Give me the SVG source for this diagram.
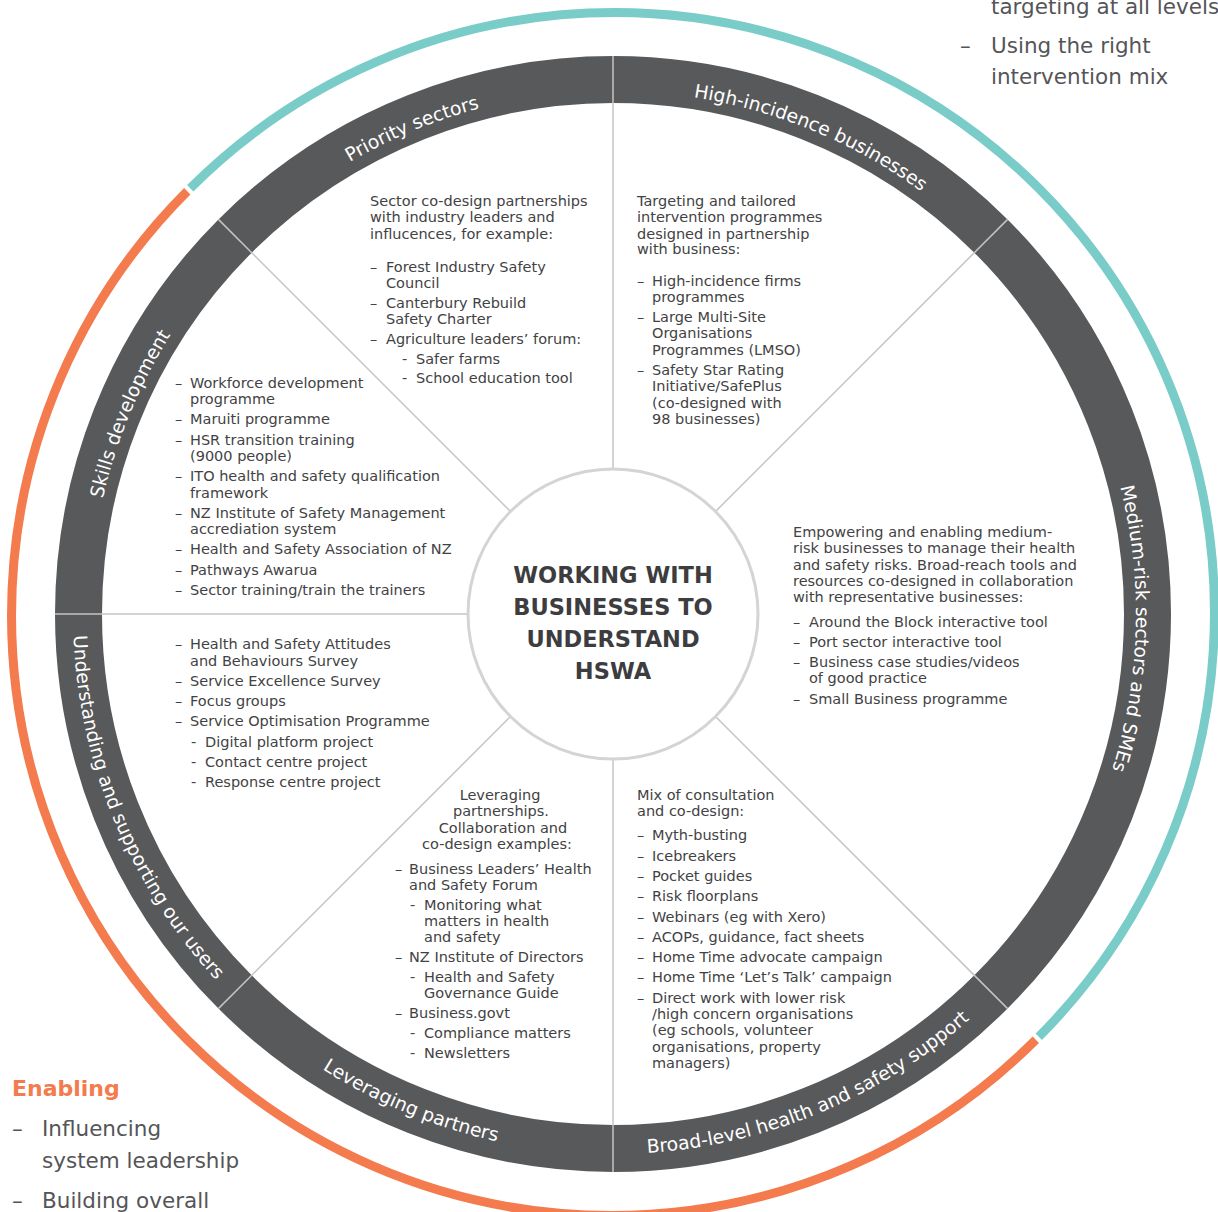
<svg xmlns="http://www.w3.org/2000/svg" width="1218" height="1212" viewBox="0 0 1218 1212">
<style>
.b{font-family:"DejaVu Sans","Liberation Sans",sans-serif;font-size:14.5px;fill:#424244}
.r{font-family:"DejaVu Sans","Liberation Sans",sans-serif;font-size:18.8px;fill:#ffffff}
.c{font-family:"DejaVu Sans","Liberation Sans",sans-serif;font-size:22.5px;font-weight:bold;fill:#3d3d3f}
.o{font-family:"DejaVu Sans","Liberation Sans",sans-serif;font-size:21.5px;fill:#555558}
.div{stroke:#c4c4c4;stroke-width:1.5;fill:none}
</style>
<defs>
<path id="pSkills" d="M 90 614 A 523 523 0 0 1 243.18 244.18"/>
<path id="pPriority" d="M 243.18 244.18 A 523 523 0 0 1 613 91"/>
<path id="pHigh" d="M 613 91 A 523 523 0 0 1 982.82 244.18"/>
<path id="pMedium" d="M 982.82 244.18 A 523 523 0 0 1 982.82 983.82"/>
<path id="pBroad" d="M 613 1154 A 540 540 0 0 0 994.84 995.84"/>
<path id="pLever" d="M 231.16 995.84 A 540 540 0 0 0 613 1154"/>
<path id="pUnder" d="M 73 614 A 540 540 0 0 0 231.16 995.84"/>
</defs>
<rect width="1218" height="1212" fill="#ffffff"/>

<g id="outer-arcs">
<path d="M 190.22 188.25 A 600 600 0 0 1 1038.75 1036.78" fill="none" stroke="#7accc8" stroke-width="9"/>
<path d="M 1035.78 1039.75 A 600 600 0 0 1 187.25 191.22" fill="none" stroke="#f37b4d" stroke-width="9"/>
</g>

<g id="ring">
<circle cx="613" cy="614" r="534.5" fill="none" stroke="#58595b" stroke-width="47"/>
</g>

<g id="dividers">
<line class="div" x1="613" y1="469" x2="613" y2="56"/>
<line class="div" x1="613" y1="759" x2="613" y2="1172"/>
<line class="div" x1="468" y1="614" x2="55" y2="614"/>
<line class="div" x1="510.5" y1="511.5" x2="218.4" y2="219.4"/>
<line class="div" x1="715.5" y1="511.5" x2="1007.6" y2="219.4"/>
<line class="div" x1="715.5" y1="716.5" x2="1007.6" y2="1008.6"/>
<line class="div" x1="510.5" y1="716.5" x2="218.4" y2="1008.6"/>
</g>

<g id="center">
<circle cx="613" cy="614" r="145" fill="#ffffff" stroke="#d4d4d4" stroke-width="3"/>
<text class="c" text-anchor="middle"><tspan x="613" y="583">WORKING WITH</tspan><tspan x="613" y="615">BUSINESSES TO</tspan><tspan x="613" y="647">UNDERSTAND</tspan><tspan x="613" y="679">HSWA</tspan></text>
</g>

<g id="priority-sectors">
<text class="r"><textPath href="#pPriority" startOffset="50%" text-anchor="middle">Priority sectors</textPath></text>
<text class="b"><tspan x="370" y="206">Sector co-design partnerships</tspan><tspan x="370" y="222">with industry leaders and</tspan><tspan x="370" y="239">influcences, for example:</tspan></text>
<text class="b"><tspan x="370" y="272">–</tspan><tspan x="386" y="272">Forest Industry Safety</tspan><tspan x="386" y="288">Council</tspan></text>
<text class="b"><tspan x="370" y="308">–</tspan><tspan x="386" y="308">Canterbury Rebuild</tspan><tspan x="386" y="324">Safety Charter</tspan></text>
<text class="b"><tspan x="370" y="344">–</tspan><tspan x="386" y="344">Agriculture leaders’ forum:</tspan></text>
<text class="b"><tspan x="402" y="364">-</tspan><tspan x="416" y="364">Safer farms</tspan></text>
<text class="b"><tspan x="402" y="383">-</tspan><tspan x="416" y="383">School education tool</tspan></text>
</g>

<g id="high-incidence">
<text class="r"><textPath href="#pHigh" startOffset="50%" text-anchor="middle">High-incidence businesses</textPath></text>
<text class="b"><tspan x="637" y="206">Targeting and tailored</tspan><tspan x="637" y="222">intervention programmes</tspan><tspan x="637" y="239">designed in partnership</tspan><tspan x="637" y="254">with business:</tspan></text>
<text class="b"><tspan x="637" y="286">–</tspan><tspan x="652" y="286">High-incidence firms</tspan><tspan x="652" y="302">programmes</tspan></text>
<text class="b"><tspan x="637" y="322">–</tspan><tspan x="652" y="322">Large Multi-Site</tspan><tspan x="652" y="338">Organisations</tspan><tspan x="652" y="355">Programmes (LMSO)</tspan></text>
<text class="b"><tspan x="637" y="375">–</tspan><tspan x="652" y="375">Safety Star Rating</tspan><tspan x="652" y="391">Initiative/SafePlus</tspan><tspan x="652" y="408">(co-designed with</tspan><tspan x="652" y="424">98 businesses)</tspan></text>
</g>

<g id="medium-risk">
<text class="r"><textPath href="#pMedium" startOffset="51.8%" text-anchor="middle">Medium-risk sectors and SMEs</textPath></text>
<text class="b"><tspan x="793" y="537">Empowering and enabling medium-</tspan><tspan x="793" y="553">risk businesses to manage their health</tspan><tspan x="793" y="570">and safety risks. Broad-reach tools and</tspan><tspan x="793" y="586">resources co-designed in collaboration</tspan><tspan x="793" y="602">with representative businesses:</tspan></text>
<text class="b"><tspan x="793" y="627">–</tspan><tspan x="809" y="627">Around the Block interactive tool</tspan></text>
<text class="b"><tspan x="793" y="647">–</tspan><tspan x="809" y="647">Port sector interactive tool</tspan></text>
<text class="b"><tspan x="793" y="667">–</tspan><tspan x="809" y="667">Business case studies/videos</tspan><tspan x="809" y="683">of good practice</tspan></text>
<text class="b"><tspan x="793" y="704">–</tspan><tspan x="809" y="704">Small Business programme</tspan></text>
</g>

<g id="broad-level">
<text class="r"><textPath href="#pBroad" startOffset="50%" text-anchor="middle">Broad-level health and safety support</textPath></text>
<text class="b"><tspan x="637" y="800">Mix of consultation</tspan><tspan x="637" y="816">and co-design:</tspan></text>
<text class="b"><tspan x="637" y="840">–</tspan><tspan x="652" y="840">Myth-busting</tspan></text>
<text class="b"><tspan x="637" y="861">–</tspan><tspan x="652" y="861">Icebreakers</tspan></text>
<text class="b"><tspan x="637" y="881">–</tspan><tspan x="652" y="881">Pocket guides</tspan></text>
<text class="b"><tspan x="637" y="901">–</tspan><tspan x="652" y="901">Risk floorplans</tspan></text>
<text class="b"><tspan x="637" y="922">–</tspan><tspan x="652" y="922">Webinars (eg with Xero)</tspan></text>
<text class="b"><tspan x="637" y="942">–</tspan><tspan x="652" y="942">ACOPs, guidance, fact sheets</tspan></text>
<text class="b"><tspan x="637" y="962">–</tspan><tspan x="652" y="962">Home Time advocate campaign</tspan></text>
<text class="b"><tspan x="637" y="982">–</tspan><tspan x="652" y="982">Home Time ‘Let’s Talk’ campaign</tspan></text>
<text class="b"><tspan x="637" y="1003">–</tspan><tspan x="652" y="1003">Direct work with lower risk</tspan><tspan x="652" y="1019">/high concern organisations</tspan><tspan x="652" y="1035">(eg schools, volunteer</tspan><tspan x="652" y="1052">organisations, property</tspan><tspan x="652" y="1068">managers)</tspan></text>
</g>

<g id="leveraging-partners">
<text class="r"><textPath href="#pLever" startOffset="50%" text-anchor="middle">Leveraging partners</textPath></text>
<text class="b" text-anchor="middle"><tspan x="500" y="800">Leveraging</tspan><tspan x="501" y="816">partnerships.</tspan><tspan x="503" y="833">Collaboration and</tspan><tspan x="497" y="849">co-design examples:</tspan></text>
<text class="b"><tspan x="395" y="874">–</tspan><tspan x="409" y="874">Business Leaders’ Health</tspan><tspan x="409" y="890">and Safety Forum</tspan></text>
<text class="b"><tspan x="410" y="910">-</tspan><tspan x="424" y="910">Monitoring what</tspan><tspan x="424" y="926">matters in health</tspan><tspan x="424" y="942">and safety</tspan></text>
<text class="b"><tspan x="395" y="962">–</tspan><tspan x="409" y="962">NZ Institute of Directors</tspan></text>
<text class="b"><tspan x="410" y="982">-</tspan><tspan x="424" y="982">Health and Safety</tspan><tspan x="424" y="998">Governance Guide</tspan></text>
<text class="b"><tspan x="395" y="1018">–</tspan><tspan x="409" y="1018">Business.govt</tspan></text>
<text class="b"><tspan x="410" y="1038">-</tspan><tspan x="424" y="1038">Compliance matters</tspan></text>
<text class="b"><tspan x="410" y="1058">-</tspan><tspan x="424" y="1058">Newsletters</tspan></text>
</g>

<g id="understanding-users">
<text class="r"><textPath href="#pUnder" startOffset="50%" text-anchor="middle">Understanding and supporting our users</textPath></text>
<text class="b"><tspan x="175" y="649">–</tspan><tspan x="190" y="649">Health and Safety Attitudes</tspan><tspan x="190" y="666">and Behaviours Survey</tspan></text>
<text class="b"><tspan x="175" y="686">–</tspan><tspan x="190" y="686">Service Excellence Survey</tspan></text>
<text class="b"><tspan x="175" y="706">–</tspan><tspan x="190" y="706">Focus groups</tspan></text>
<text class="b"><tspan x="175" y="726">–</tspan><tspan x="190" y="726">Service Optimisation Programme</tspan></text>
<text class="b"><tspan x="191" y="747">-</tspan><tspan x="205" y="747">Digital platform project</tspan></text>
<text class="b"><tspan x="191" y="767">-</tspan><tspan x="205" y="767">Contact centre project</tspan></text>
<text class="b"><tspan x="191" y="787">-</tspan><tspan x="205" y="787">Response centre project</tspan></text>
</g>

<g id="skills-development">
<text class="r"><textPath href="#pSkills" startOffset="50%" text-anchor="middle">Skills development</textPath></text>
<text class="b"><tspan x="175" y="388">–</tspan><tspan x="190" y="388">Workforce development</tspan><tspan x="190" y="404">programme</tspan></text>
<text class="b"><tspan x="175" y="424">–</tspan><tspan x="190" y="424">Maruiti programme</tspan></text>
<text class="b"><tspan x="175" y="445">–</tspan><tspan x="190" y="445">HSR transition training</tspan><tspan x="190" y="461">(9000 people)</tspan></text>
<text class="b"><tspan x="175" y="481">–</tspan><tspan x="190" y="481">ITO health and safety qualification</tspan><tspan x="190" y="498">framework</tspan></text>
<text class="b"><tspan x="175" y="518">–</tspan><tspan x="190" y="518">NZ Institute of Safety Management</tspan><tspan x="190" y="534">accrediation system</tspan></text>
<text class="b"><tspan x="175" y="554">–</tspan><tspan x="190" y="554">Health and Safety Association of NZ</tspan></text>
<text class="b"><tspan x="175" y="575">–</tspan><tspan x="190" y="575">Pathways Awarua</tspan></text>
<text class="b"><tspan x="175" y="595">–</tspan><tspan x="190" y="595">Sector training/train the trainers</tspan></text>
</g>

<g id="targeting-note">
<text class="o"><tspan x="991" y="14">targeting at all levels</tspan></text>
<text class="o"><tspan x="960" y="53">–</tspan><tspan x="991" y="53">Using the right</tspan><tspan x="991" y="84">intervention mix</tspan></text>
</g>

<g id="enabling-note">
<text class="o" style="font-weight:bold;fill:#f37b4d;font-size:22px" x="12" y="1096">Enabling</text>
<text class="o"><tspan x="12" y="1136">–</tspan><tspan x="42" y="1136">Influencing</tspan><tspan x="42" y="1168">system leadership</tspan></text>
<text class="o"><tspan x="12" y="1208">–</tspan><tspan x="42" y="1208">Building overall</tspan></text>
</g>
</svg>
